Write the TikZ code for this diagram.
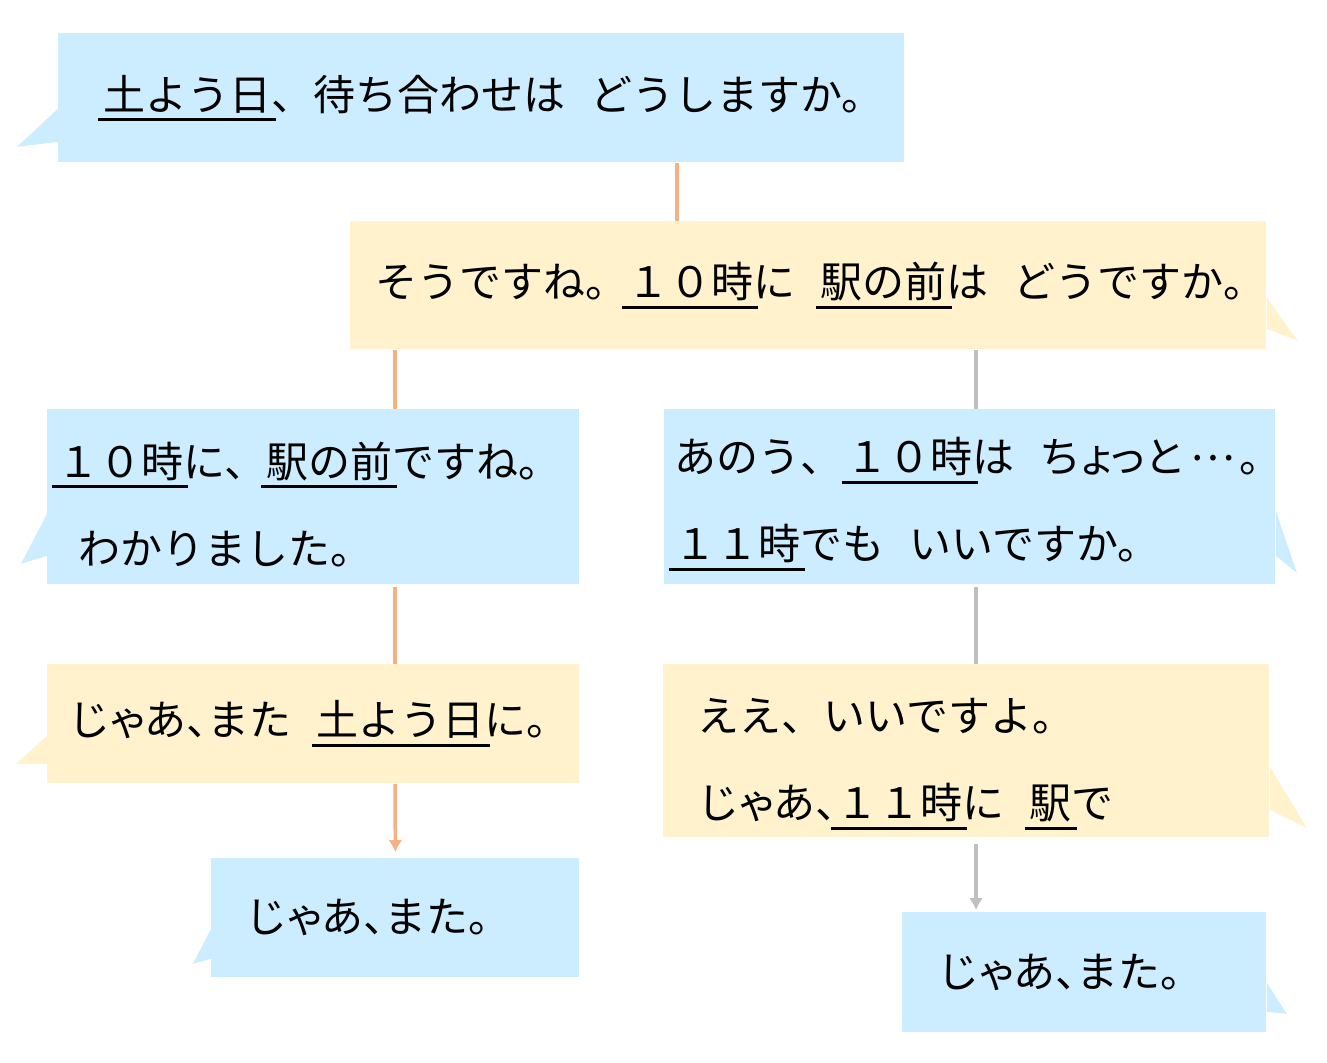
\documentclass[tikz,border=0pt]{standalone}
\usepackage{fontspec}
\newfontfamily\jp{Noto Sans CJK JP}
\usepackage{xcolor}
\usetikzlibrary{arrows.meta, calc}

\definecolor{bubbleblue}{HTML}{CCECFF}
\definecolor{bubbleyellow}{HTML}{FFF2CC}
\definecolor{lineorange}{HTML}{F4B183}
\definecolor{linegray}{HTML}{BFBFBF}

\newcommand{\kasen}[1]{\leavevmode\setbox0=\hbox{#1}\rlap{\kern-2.5pt\rule[-5.5pt]{\dimexpr\wd0+5pt\relax}{1.5pt}}\box0}
\newcommand{\gap}{\kern0.6em}
\newcommand{\lift}[1]{\rule{0pt}{#1}}
\newcommand{\narrow}[1]{{\addfontfeature{RawFeature=+palt}#1}}
\newcommand{\tenten}{\kern0.1em\raisebox{0.3em}{…}\kern0.1em}

\tikzset{
	bubble/.style={rectangle, anchor=north west, inner ysep=0pt, align=left, font=\jp\fontsize{21pt}{43.5pt}\selectfont},
	bluebox/.style={bubble, fill=bubbleblue},
	yellowbox/.style={bubble, fill=bubbleyellow},
	orangeline/.style={draw=lineorange, line width=1.75pt},
	grayline/.style={draw=linegray, line width=1.75pt},
	tip/.style={-{Latex[length=6pt, width=7pt]}}
}

\begin{document}
\begin{tikzpicture}[x=0.5pt, y=-0.5pt]
	\useasboundingbox (0,0) rectangle (1327,1062);

	% speech bubbles
	\node[bluebox, minimum height=64.5pt, text width=378pt, inner xsep=22.5pt] (Q) at (58,33) {\kasen{土よう日}、待ち合わせは\gap どうしますか。};
	\node[yellowbox, minimum height=64pt, text width=433pt, inner xsep=12.5pt] (P) at (350,221) {そうですね。\kasen{１０時}に\gap\kasen{駅の前}は\gap どうですか。};
	\node[bluebox, minimum height=87.5pt, text width=256pt, inner xsep=5pt] (Y) at (47,409) {\lift{25pt}\kasen{１０時}に、\kasen{駅の前}ですね。\\\hspace*{0.5em}わかりました。};
	\node[bluebox, minimum height=87.5pt, text width=295.5pt, inner xsep=5pt] (N) at (664,409) {\lift{25pt}あのう、\kern0.1em\kasen{１０時}は\gap ち\narrow{ょっ}と\tenten。\\\kasen{１１時}でも\gap いいですか。};
	\node[yellowbox, minimum height=59.5pt, text width=245pt, inner xsep=10.5pt] (Y2) at (47,664) {じ\narrow{ゃ}あ\narrow{、}また\gap\kasen{土よう日}に。};
	\node[yellowbox, minimum height=86.5pt, text width=269pt, inner xsep=17pt] (N2) at (663,664) {\lift{30pt}ええ、いいですよ。\\じ\narrow{ゃ}あ\narrow{、}\kasen{１１時}に\gap\kasen{駅}で};
	\node[bluebox, minimum height=59.5pt, text width=150pt, inner xsep=17pt] (Y3) at (211,858) {じ\narrow{ゃ}あ\narrow{、}また。};
	\node[bluebox, minimum height=60pt, text width=147pt, inner xsep=17.5pt] (N3) at (902,912) {じ\narrow{ゃ}あ\narrow{、}また。};

	% tails
	\fill[bubbleblue] ($(Q.south west)+(0,-54)$) -- ($(Q.south west)+(-41,-16)$) -- ($(Q.south west)+(0,-21)$) -- cycle;
	\fill[bubbleyellow] ($(P.south east)+(0,-52)$) -- ($(P.south east)+(31,-9)$) -- ($(P.south east)+(0,-21)$) -- cycle;
	\fill[bubbleblue] ($(Y.south west)+(0,-71)$) -- ($(Y.south west)+(-26,-21)$) -- ($(Y.south west)+(0,-29)$) -- cycle;
	\fill[bubbleblue] ($(N.south east)+(0,-74)$) -- ($(N.south east)+(21,-12)$) -- ($(N.south east)+(0,-29)$) -- cycle;
	\fill[bubbleyellow] ($(Y2.south west)+(0,-48)$) -- ($(Y2.south west)+(-31,-20)$) -- ($(Y2.south west)+(0,-20)$) -- cycle;
	\fill[bubbleyellow] ($(N2.south east)+(0,-71)$) -- ($(N2.south east)+(37,-10)$) -- ($(N2.south east)+(0,-28)$) -- cycle;
	\fill[bubbleblue] ($(Y3.south west)+(0,-49)$) -- ($(Y3.south west)+(-18,-14)$) -- ($(Y3.south west)+(0,-19)$) -- cycle;
	\fill[bubbleblue] ($(N3.south east)+(0,-50)$) -- ($(N3.south east)+(20,-19)$) -- ($(N3.south east)+(0,-21)$) -- cycle;

	% connectors
	\coordinate (colP) at (677,0);
	\coordinate (colY) at (395,0);
	\coordinate (colN) at (976,0);

	\draw[orangeline] (Q.south -| colP) -- (P.north -| colP);
	\draw[orangeline] (P.south -| colY) -- (Y.north -| colY);
	\draw[orangeline, shorten <=1pt] (Y.south -| colY) -- (Y2.north -| colY);
	\draw[orangeline, tip, shorten >=3pt] (Y2.south -| colY) -- (Y3.north);

	\draw[grayline] (P.south -| colN) -- (N.north -| colN);
	\draw[grayline, shorten <=1pt] (N.south -| colN) -- (N2.north -| colN);
	\draw[grayline, tip, shorten <=3pt, shorten >=1pt] (N2.south -| colN) -- (N3.north -| colN);
\end{tikzpicture}
\end{document}
